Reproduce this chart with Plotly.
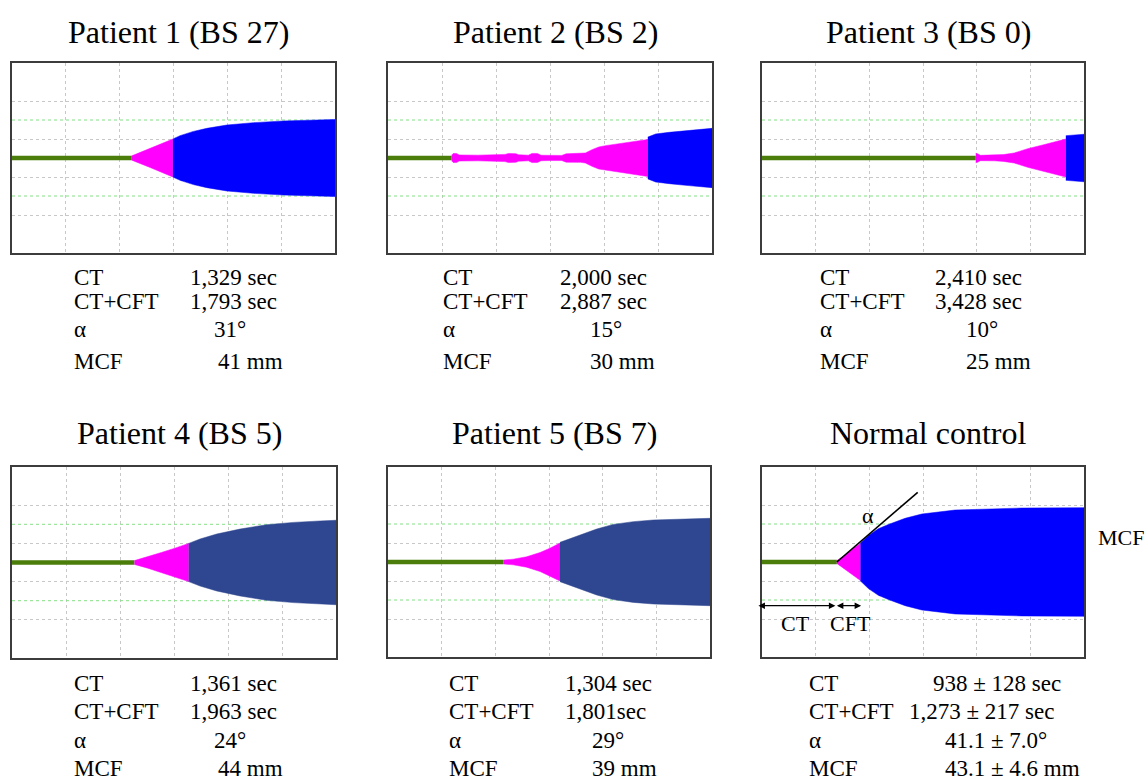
import plotly.graph_objects as go

# ---------------- data ----------------
titles = ["Patient 1 (BS 27)", "Patient 2 (BS 2)", "Patient 3 (BS 0)",
          "Patient 4 (BS 5)", "Patient 5 (BS 7)", "Normal control"]

stat_labels = ["CT", "CT+CFT", "α", "MCF"]
p1_stats = ["1,329 sec", "1,793 sec", "31°", "41 mm"]
p2_stats = ["2,000 sec", "2,887 sec", "15°", "30 mm"]
p3_stats = ["2,410 sec", "3,428 sec", "10°", "25 mm"]
p4_stats = ["1,361 sec", "1,963 sec", "24°", "44 mm"]
p5_stats = ["1,304 sec", "1,801sec", "29°", "39 mm"]
nc_stats = ["938 ± 128 sec", "1,273 ± 217 sec", "41.1 ± 7.0°", "43.1 ± 4.6 mm"]

# trace envelopes: time (s) and amplitude (mm)
p1_ct = 1329
p1_cft_t = [1329, 1420, 1540, 1660, 1793]
p1_cft_amp = [2, 5.5, 10, 14.5, 20]
p1_mcf_t = [1793, 1873, 2022, 2171, 2394, 2691, 3025, 3397, 3600]
p1_mcf_amp = [20, 23.5, 28, 31.2, 34.7, 37.2, 39, 40, 40.6]

p2_ct = 707
p2_cft_t = [707, 725, 760, 790, 1000, 1150, 1300, 1340, 1420, 1450, 1560, 1600,
            1660, 1700, 1800, 1930, 1980, 2050, 2110, 2140, 2193, 2267, 2342,
            2416, 2565, 2713, 2887]
p2_cft_amp = [3.0, 4.8, 4.8, 3.2, 3.0, 3.2, 3.8, 4.8, 4.6, 3.4, 3.0, 4.8,
              4.8, 2.9, 2.7, 2.7, 4.4, 4.6, 4.4, 4.6, 5.3, 8.8, 11.6,
              13, 15.1, 17.2, 19.5]
p2_mcf_t = [2887, 2974, 3123, 3309, 3495, 3600]
p2_mcf_amp = [22, 25.3, 27, 28.8, 30.5, 31.2]

p3_ct = 2390
p3_cft_t = [2390, 2410, 2440, 2600, 2700, 2820, 2970, 3150, 3397]
p3_cft_amp = [5, 4.5, 2.8, 3.0, 3.6, 5.3, 9.8, 14, 20]
p3_mcf_t = [3397, 3500, 3600]
p3_mcf_amp = [23.5, 24.3, 25]

p4_ct = 1361
p4_cft_t = [1361, 1510, 1660, 1810, 1963]
p4_cft_amp = [2, 6, 10.5, 15, 20]
p4_mcf_t = [1963, 2089, 2274, 2533, 2829, 3126, 3422, 3600]
p4_mcf_amp = [20, 24.6, 29.8, 35, 39.6, 42, 43.5, 44.2]

p5_ct = 1290
p5_cft_t = [1290, 1401, 1550, 1700, 1810, 1923]
p5_cft_amp = [2, 3, 5.5, 10, 14.5, 20]
p5_mcf_t = [1923, 2146, 2333, 2519, 2743, 2966, 3264, 3600]
p5_mcf_amp = [20.7, 28.4, 34.7, 39.6, 42.5, 44.2, 45.3, 46]

nc_ct = 837
nc_cft_t = [837, 930, 1023, 1101]
nc_cft_amp = [1.5, 7.4, 14.4, 19.6]
nc_mcf_t = [1101, 1190, 1300, 1413, 1600, 1786, 2158, 2530, 2902, 3600]
nc_mcf_amp = [20, 28, 35, 39.5, 46, 50.5, 54.7, 56.1, 56.8, 57.2]
nc_alpha_t = [837, 1741]
nc_alpha_y = [0, 36.7]

panels = [
    (p1_ct, p1_cft_t, p1_cft_amp, p1_mcf_t, p1_mcf_amp, p1_stats),
    (p2_ct, p2_cft_t, p2_cft_amp, p2_mcf_t, p2_mcf_amp, p2_stats),
    (p3_ct, p3_cft_t, p3_cft_amp, p3_mcf_t, p3_mcf_amp, p3_stats),
    (p4_ct, p4_cft_t, p4_cft_amp, p4_mcf_t, p4_mcf_amp, p4_stats),
    (p5_ct, p5_cft_t, p5_cft_amp, p5_mcf_t, p5_mcf_amp, p5_stats),
    (nc_ct, nc_cft_t, nc_cft_amp, nc_mcf_t, nc_mcf_amp, nc_stats),
]

# ---------------- layout / style ----------------
W, H = 1145, 780
BOXES = [(12, 335, 63, 253), (388, 712, 63, 253), (762, 1084, 63, 253),
         (12, 336, 467, 658), (388, 710, 467, 657), (762, 1084, 467, 657)]
TITLE_Y = [32, 32, 32, 433, 433, 433]
LABEL_X = [72, 441, 818, 72, 447, 807]
VALUE_X = [[188, 188, 212, 216], [558, 558, 588, 588], [933, 933, 964, 964],
           [188, 188, 212, 216], [563, 563, 590, 590], [931, 907, 943, 943]]
ROW_Y_TOP = [277, 302, 329, 361]
ROW_Y_BOT = [683, 711, 740, 768]

GREEN = "#4a7d0a"
MAG = "#ff00ff"
BLUE = "#0000ff"
NAVY = "#2f4691"
FILLS = [BLUE, BLUE, BLUE, NAVY, NAVY, BLUE]
FONT = "Liberation Serif, Times New Roman, serif"


def px(x):
    return x / W


def py(y):
    return 1 - y / H


fig = go.Figure()
layout = dict(width=W, height=H, margin=dict(l=0, r=0, t=0, b=0),
              paper_bgcolor="white", plot_bgcolor="white", showlegend=False)
shapes = []
annotations = []

for i, (ct, ct_t, ct_a, mt, ma, stats) in enumerate(panels):
    n = "" if i == 0 else str(i + 1)
    xa, ya = "x" + n, "y" + n
    l, r, t, b = BOXES[i]
    common = dict(showgrid=True, griddash="dot", gridcolor="#c8c8c8", gridwidth=1,
                  showticklabels=False, ticks="", zeroline=False, showline=True,
                  mirror=True, linecolor="#3c3c3c", linewidth=1.5, fixedrange=True)
    layout["xaxis" + n] = dict(domain=[px(l), px(r)], range=[0, 3600], tick0=0,
                               dtick=600, anchor=ya, **common)
    layout["yaxis" + n] = dict(domain=[py(b), py(t)], range=[-50, 50],
                               tickvals=[-30, -10, 10, 30], anchor=xa, **common)
    for gy in (-20, 20):
        shapes.append(dict(type="line", xref=xa, yref=ya, x0=0, x1=3600, y0=gy, y1=gy,
                           line=dict(color="#86e086", width=1, dash="dot"),
                           layer="between"))
    # baseline
    fig.add_trace(go.Scatter(x=[0, ct], y=[0, 0], mode="lines", xaxis=xa, yaxis=ya,
                             line=dict(color=GREEN, width=4.5), hoverinfo="skip"))
    # clot formation (magenta)
    fig.add_trace(go.Scatter(x=ct_t + ct_t[::-1],
                             y=[a / 2 for a in ct_a] + [-a / 2 for a in ct_a[::-1]],
                             mode="lines", fill="toself", fillcolor=MAG,
                             line=dict(color=MAG, width=0.5), xaxis=xa, yaxis=ya,
                             hoverinfo="skip"))
    # clot firmness
    fig.add_trace(go.Scatter(x=mt + mt[::-1],
                             y=[a / 2 for a in ma] + [-a / 2 for a in ma[::-1]],
                             mode="lines", fill="toself", fillcolor=FILLS[i],
                             line=dict(color=FILLS[i], width=0.5), xaxis=xa, yaxis=ya,
                             hoverinfo="skip"))
    # title
    annotations.append(dict(text=titles[i], xref="paper", yref="paper",
                            x=px((l + r) / 2 + 5), y=py(TITLE_Y[i]), showarrow=False,
                            xanchor="center", yanchor="middle",
                            font=dict(family=FONT, size=32, color="black")))
    rows = ROW_Y_TOP if i < 3 else ROW_Y_BOT
    for k in range(4):
        annotations.append(dict(text=stat_labels[k], xref="paper", yref="paper",
                                x=px(LABEL_X[i]), y=py(rows[k]), showarrow=False,
                                xanchor="left", yanchor="middle",
                                font=dict(family=FONT, size=23, color="black")))
        annotations.append(dict(text=stats[k], xref="paper", yref="paper",
                                x=px(VALUE_X[i][k]), y=py(rows[k]), showarrow=False,
                                xanchor="left", yanchor="middle",
                                font=dict(family=FONT, size=23, color="black")))

# ---- normal control schematic annotations ----
fig.add_trace(go.Scatter(x=nc_alpha_t, y=nc_alpha_y, mode="lines", xaxis="x6",
                         yaxis="y6", line=dict(color="black", width=1.6),
                         hoverinfo="skip"))
arrow = dict(showarrow=True, arrowhead=2, arrowside="end+start", arrowsize=1,
             arrowwidth=1.3, arrowcolor="black", text="", xref="x6", yref="y6",
             axref="x6", ayref="y6", standoff=0, startstandoff=0)
annotations.append(dict(x=3640, y=29.5, ax=3640, ay=0, **arrow))
annotations.append(dict(x=-40, y=-23, ax=837, ay=-23, **arrow))
annotations.append(dict(x=837, y=-23, ax=1125, ay=-23, **arrow))
for txt, x, y, anc in [("α", 868, 515, "center"), ("MCF", 1096, 537, "left"),
                       ("CT", 795, 623, "center"), ("CFT", 850, 623, "center")]:
    annotations.append(dict(text=txt, xref="paper", yref="paper", x=px(x), y=py(y),
                            showarrow=False, xanchor=anc, yanchor="middle",
                            font=dict(family=FONT, size=22, color="black")))

layout["shapes"] = shapes
layout["annotations"] = annotations
fig.update_layout(**layout)
fig.write_html("out.html", config={"displayModeBar": False},
               post_script="document.body.style.margin='0';document.body.style.overflow='hidden';")
